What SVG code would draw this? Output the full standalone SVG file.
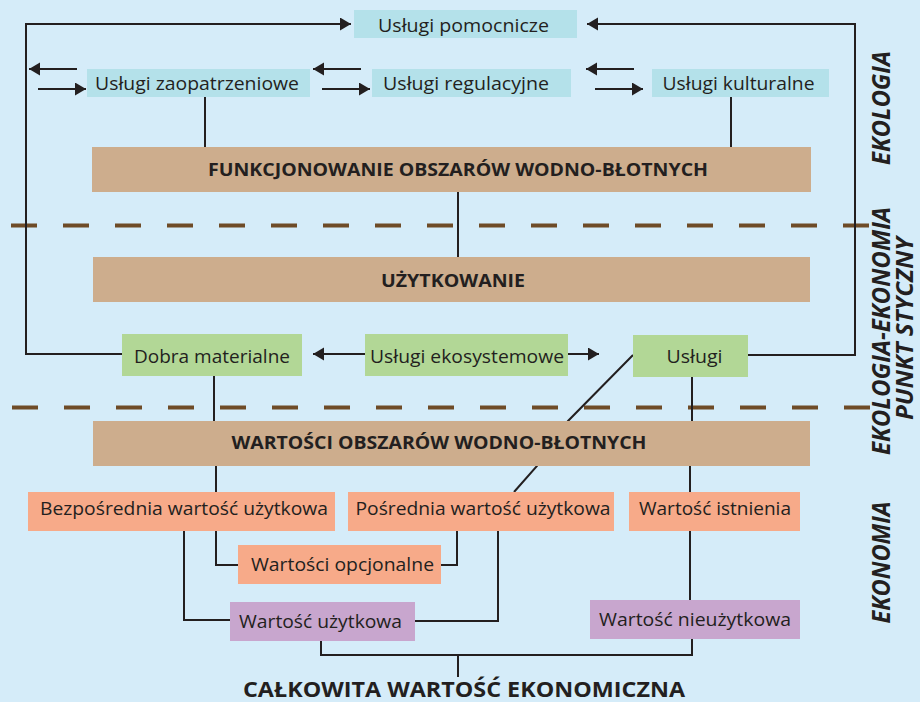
<svg xmlns="http://www.w3.org/2000/svg" width="920" height="702" viewBox="0 0 920 702">
  <defs>
    <marker id="head" markerUnits="userSpaceOnUse" markerWidth="12" markerHeight="14" refX="11" refY="6.5" orient="auto">
      <path d="M0,0 L11,6.5 L0,13 Z" fill="#231F20"/>
    </marker>
    <style>
      .bg { fill: #D5ECF9; }
      .svc { fill: #B4E1EA; }
      .band { fill: #CDAD8D; }
      .good { fill: #B2D796; }
      .val { fill: #F7AA89; }
      .sum { fill: #C8A6CE; }
      .t { font-family: "Open Sans", "Noto Sans", "Liberation Sans", sans-serif; font-size: 19px; fill: #231F20; text-anchor: middle; }
      .b { font-family: "Open Sans", "Noto Sans", "Liberation Sans", sans-serif; font-size: 18.5px; font-weight: bold; fill: #231F20; text-anchor: middle; }
      .big { font-family: "Open Sans", "Noto Sans", "Liberation Sans", sans-serif; font-size: 22px; font-weight: bold; fill: #231F20; text-anchor: middle; }
      .side { font-family: "Open Sans", "Noto Sans", "Liberation Sans", sans-serif; font-size: 25px; font-weight: bold; font-style: italic; fill: #231F20; text-anchor: middle; }
      .side2 { font-size: 23px; }
      .ln { fill: none; stroke: #231F20; stroke-width: 2; }
      .arr { fill: none; stroke: #231F20; stroke-width: 2; marker-end: url(#head); }
      .dash { stroke: #6E4B27; stroke-width: 4; stroke-dasharray: 26 26; }
    </style>
  </defs>

  <rect class="bg" x="0" y="0" width="920" height="702"/>

  <!-- zone boundaries -->
  <g id="boundaries">
    <line class="dash" x1="11" y1="225.5" x2="869" y2="225.5"/>
    <line class="dash" x1="12" y1="407.5" x2="871" y2="407.5"/>
  </g>

  <!-- connectors -->
  <g id="connectors">
    <polyline class="arr" points="122,354 26,354 26,24 351,24"/>
    <polyline class="arr" points="748,355 855,355 855,24 587,24"/>
    <line class="arr" x1="77" y1="69" x2="29" y2="69"/>
    <line class="arr" x1="38" y1="89" x2="86" y2="89"/>
    <line class="arr" x1="361" y1="69" x2="313" y2="69"/>
    <line class="arr" x1="322" y1="89" x2="370" y2="89"/>
    <line class="arr" x1="634" y1="69" x2="586" y2="69"/>
    <line class="arr" x1="595" y1="89" x2="643" y2="89"/>
    <line class="ln" x1="205" y1="97" x2="205" y2="147"/>
    <line class="ln" x1="731" y1="97" x2="731" y2="147"/>
    <line class="ln" x1="458" y1="192" x2="458" y2="257"/>
    <line class="arr" x1="365" y1="354" x2="313" y2="354"/>
    <line class="arr" x1="568" y1="354" x2="599" y2="354"/>
    <line class="ln" x1="214" y1="376" x2="214" y2="421"/>
    <line class="ln" x1="692" y1="377" x2="692" y2="421"/>
    <polyline class="ln" points="633,355 568,421 537,466 514,492"/>
    <line class="ln" x1="216" y1="466" x2="216" y2="492"/>
    <line class="ln" x1="690" y1="466" x2="690" y2="492"/>
    <polyline class="ln" points="216,531 216,565 238,565"/>
    <polyline class="ln" points="457,531 457,565 441,565"/>
    <polyline class="ln" points="184,531 184,620 230,620"/>
    <polyline class="ln" points="498,531 498,621 415,621"/>
    <line class="ln" x1="690" y1="531" x2="690" y2="600"/>
    <polyline class="ln" points="321,641 321,655 692,655 692,639"/>
    <line class="ln" x1="458" y1="655" x2="458" y2="677"/>
  </g>

  <!-- ecosystem services -->
  <g id="uslugi-pomocnicze">
    <rect class="svc" x="354" y="10" width="223" height="28"/>
    <text class="t" x="463.5" y="31.5" textLength="171" lengthAdjust="spacingAndGlyphs">Usługi pomocnicze</text>
  </g>
  <g id="uslugi-zaopatrzeniowe">
    <rect class="svc" x="87" y="69" width="223" height="28"/>
    <text class="t" x="197" y="89.5" textLength="204" lengthAdjust="spacingAndGlyphs">Usługi zaopatrzeniowe</text>
  </g>
  <g id="uslugi-regulacyjne">
    <rect class="svc" x="372" y="69" width="199" height="28"/>
    <text class="t" x="466" y="89.5" textLength="166" lengthAdjust="spacingAndGlyphs">Usługi regulacyjne</text>
  </g>
  <g id="uslugi-kulturalne">
    <rect class="svc" x="652" y="69" width="177" height="28"/>
    <text class="t" x="738.5" y="89.5" textLength="152" lengthAdjust="spacingAndGlyphs">Usługi kulturalne</text>
  </g>

  <!-- wide bands -->
  <g id="funkcjonowanie">
    <rect class="band" x="92" y="147" width="719" height="45"/>
    <text class="b" x="458" y="175.5" textLength="500" lengthAdjust="spacingAndGlyphs">FUNKCJONOWANIE OBSZARÓW WODNO-BŁOTNYCH</text>
  </g>
  <g id="uzytkowanie">
    <rect class="band" x="93" y="257" width="717" height="45"/>
    <text class="b" x="453" y="286.5" textLength="144" lengthAdjust="spacingAndGlyphs">UŻYTKOWANIE</text>
  </g>

  <!-- goods and services -->
  <g id="dobra-materialne">
    <rect class="good" x="122" y="334" width="180" height="42"/>
    <text class="t" x="212" y="362.5" textLength="156" lengthAdjust="spacingAndGlyphs">Dobra materialne</text>
  </g>
  <g id="uslugi-ekosystemowe">
    <rect class="good" x="365" y="334" width="203" height="42"/>
    <text class="t" x="467" y="362.5" textLength="194" lengthAdjust="spacingAndGlyphs">Usługi ekosystemowe</text>
  </g>
  <g id="uslugi">
    <rect class="good" x="633" y="335" width="115" height="42"/>
    <text class="t" x="694.5" y="362.5" textLength="56" lengthAdjust="spacingAndGlyphs">Usługi</text>
  </g>

  <g id="wartosci">
    <rect class="band" x="93" y="421" width="717" height="45"/>
    <text class="b" x="439" y="448.5" textLength="415" lengthAdjust="spacingAndGlyphs">WARTOŚCI OBSZARÓW WODNO-BŁOTNYCH</text>
  </g>

  <!-- values -->
  <g id="bezposrednia">
    <rect class="val" x="28" y="492" width="307" height="39"/>
    <text class="t" x="184" y="515" textLength="288" lengthAdjust="spacingAndGlyphs">Bezpośrednia wartość użytkowa</text>
  </g>
  <g id="posrednia">
    <rect class="val" x="348" y="492" width="266" height="39"/>
    <text class="t" x="483" y="515" textLength="255" lengthAdjust="spacingAndGlyphs">Pośrednia wartość użytkowa</text>
  </g>
  <g id="istnienia">
    <rect class="val" x="629" y="492" width="171" height="39"/>
    <text class="t" x="715" y="515" textLength="152" lengthAdjust="spacingAndGlyphs">Wartość istnienia</text>
  </g>
  <g id="opcjonalne">
    <rect class="val" x="238" y="545" width="203" height="39"/>
    <text class="t" x="342.5" y="571" textLength="183" lengthAdjust="spacingAndGlyphs">Wartości opcjonalne</text>
  </g>
  <g id="uzytkowa">
    <rect class="sum" x="230" y="602" width="185" height="39"/>
    <text class="t" x="320.5" y="627.5" textLength="163" lengthAdjust="spacingAndGlyphs">Wartość użytkowa</text>
  </g>
  <g id="nieuzytkowa">
    <rect class="sum" x="590" y="600" width="210" height="39"/>
    <text class="t" x="695" y="625.5" textLength="192" lengthAdjust="spacingAndGlyphs">Wartość nieużytkowa</text>
  </g>

  <g id="calkowita">
    <text class="big" x="464" y="697" textLength="442" lengthAdjust="spacingAndGlyphs">CAŁKOWITA WARTOŚĆ EKONOMICZNA</text>
  </g>

  <!-- zone labels -->
  <g id="zone-labels">
    <text class="side" transform="translate(890,108) rotate(-90)" textLength="114" lengthAdjust="spacingAndGlyphs">EKOLOGIA</text>
    <text class="side" transform="translate(890,331) rotate(-90)" textLength="248" lengthAdjust="spacingAndGlyphs">EKOLOGIA-EKONOMIA</text>
    <text class="side side2" transform="translate(913,328.5) rotate(-90)" textLength="183" lengthAdjust="spacingAndGlyphs">PUNKT STYCZNY</text>
    <text class="side" transform="translate(890,562.5) rotate(-90)" textLength="122" lengthAdjust="spacingAndGlyphs">EKONOMIA</text>
  </g>
</svg>
